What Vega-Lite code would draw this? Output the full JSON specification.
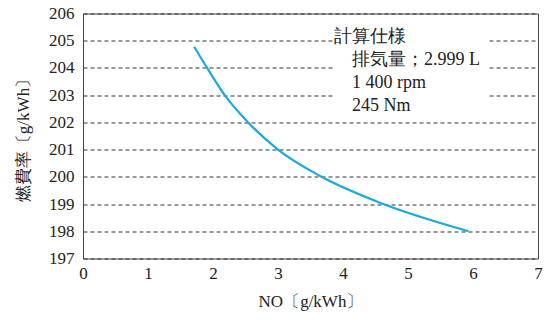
{
  "$schema": "https://vega.github.io/schema/vega-lite/v6.json",
  "width": 455,
  "height": 245,
  "autosize": "none",
  "padding": {"left": 83, "top": 13.5, "right": 12, "bottom": 61.5},
  "background": "white",
  "config": {
    "view": {"stroke": "#444", "strokeWidth": 1},
    "font": "Liberation Serif",
    "style": {
      "guide-label": {"font": "Liberation Serif", "fontSize": 17, "fill": "#222"},
      "guide-title": {"font": "Liberation Serif", "fontSize": 17, "fontWeight": "normal", "fill": "#222"}
    },
    "axis": {
      "labelFont": "Liberation Serif", "labelFontSize": 17, "labelColor": "#222",
      "titleFont": "Liberation Serif", "titleFontSize": 17, "titleFontWeight": "normal", "titleColor": "#222",
      "ticks": false, "domain": false, "labelFlush": false, "labelOverlap": false, "format": "d"
    },
    "axisX": {"grid": false, "labelPadding": 7, "titlePadding": 12, "values": [0,1,2,3,4,5,6,7], "title": "NO〔g/kWh〕"},
    "axisY": {"grid": true, "gridColor": "#333", "gridDash": [4, 3], "gridWidth": 1, "labelPadding": 9, "titlePadding": 16,
      "values": [197,198,199,200,201,202,203,204,205,206], "title": "燃費率〔g/kWh〕"}
  },
  "datasets": {
    "curve": [
      {"no": 1.71, "bsfc": 204.78},
      {"no": 1.91, "bsfc": 204.0},
      {"no": 2.18, "bsfc": 203.0},
      {"no": 2.54, "bsfc": 202.0},
      {"no": 3.0, "bsfc": 201.0},
      {"no": 3.67, "bsfc": 200.0},
      {"no": 4.62, "bsfc": 199.0},
      {"no": 5.93, "bsfc": 198.0}
    ],
    "one": [{"k": 1}]
  },
  "layer": [
    {
      "data": {"name": "curve"},
      "mark": {"type": "line", "interpolate": "monotone", "color": "#1aa9e0", "strokeWidth": 2.2},
      "encoding": {
        "x": {"field": "no", "type": "quantitative", "scale": {"domain": [0, 7], "nice": false, "zero": false},
          "axis": {"title": "NO〔g/kWh〕", "values": [0,1,2,3,4,5,6,7], "labelFont": "Liberation Serif", "labelFontSize": 17, "titleFont": "Liberation Serif", "titleFontSize": 17}},
        "y": {"field": "bsfc", "type": "quantitative", "scale": {"domain": [197, 206], "nice": false, "zero": false},
          "axis": {"title": "燃費率〔g/kWh〕", "values": [197,198,199,200,201,202,203,204,205,206], "labelFont": "Liberation Serif", "labelFontSize": 17, "titleFont": "Liberation Serif", "titleFontSize": 17}}
      }
    },
    {
      "data": {"name": "one"},
      "mark": {"type": "rect", "fill": "white"},
      "encoding": {
        "x": {"datum": 3.86, "type": "quantitative",
          "axis": {"title": "NO〔g/kWh〕", "values": [0,1,2,3,4,5,6,7], "labelFont": "Liberation Serif", "labelFontSize": 17, "titleFont": "Liberation Serif", "titleFontSize": 17}},
        "x2": {"datum": 6.25},
        "y": {"datum": 202.55, "type": "quantitative",
          "axis": {"title": "燃費率〔g/kWh〕", "values": [197,198,199,200,201,202,203,204,205,206], "labelFont": "Liberation Serif", "labelFontSize": 17, "titleFont": "Liberation Serif", "titleFontSize": 17}},
        "y2": {"datum": 205.45}
      }
    },
    {
      "data": {"name": "one"},
      "mark": {"type": "text", "align": "left", "baseline": "alphabetic", "fontSize": 18, "color": "#222", "font": "Liberation Serif"},
      "encoding": {
        "x": {"datum": 3.86, "type": "quantitative",
          "axis": {"title": "NO〔g/kWh〕", "values": [0,1,2,3,4,5,6,7], "labelFont": "Liberation Serif", "labelFontSize": 17, "titleFont": "Liberation Serif", "titleFontSize": 17}},
        "y": {"datum": 204.95, "type": "quantitative",
          "axis": {"title": "燃費率〔g/kWh〕", "values": [197,198,199,200,201,202,203,204,205,206], "labelFont": "Liberation Serif", "labelFontSize": 17, "titleFont": "Liberation Serif", "titleFontSize": 17}},
        "text": {"value": "計算仕様"}
      }
    },
    {
      "data": {"name": "one"},
      "mark": {"type": "text", "align": "left", "baseline": "alphabetic", "fontSize": 18, "lineHeight": 23, "color": "#222", "font": "Liberation Serif"},
      "encoding": {
        "x": {"datum": 4.14, "type": "quantitative",
          "axis": {"title": "NO〔g/kWh〕", "values": [0,1,2,3,4,5,6,7], "labelFont": "Liberation Serif", "labelFontSize": 17, "titleFont": "Liberation Serif", "titleFontSize": 17}},
        "y": {"datum": 204.1, "type": "quantitative",
          "axis": {"title": "燃費率〔g/kWh〕", "values": [197,198,199,200,201,202,203,204,205,206], "labelFont": "Liberation Serif", "labelFontSize": 17, "titleFont": "Liberation Serif", "titleFontSize": 17}},
        "text": {"value": ["排気量；2.999 L", "1 400 rpm", "245 Nm"]}
      }
    }
  ]
}
